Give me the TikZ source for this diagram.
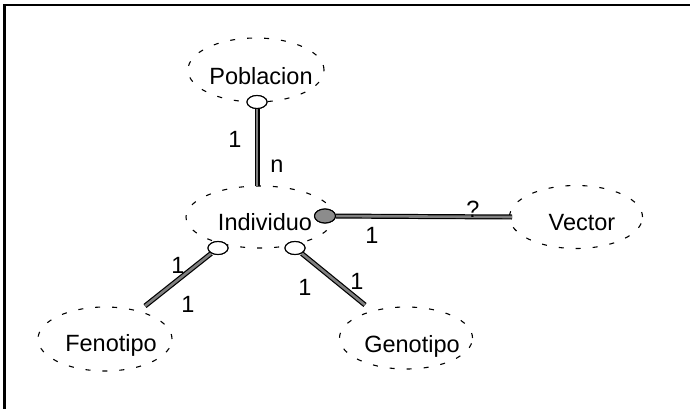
\documentclass[tikz,border=0pt]{standalone}
\usepackage{fontspec}
\setmainfont{Liberation Sans}
\usetikzlibrary{shapes.geometric}
\begin{document}
\begin{tikzpicture}[x=1pt,y=-1pt,
  cloud/.style={draw=black, ellipse, line width=1.1pt, dash pattern=on 5pt off 12pt, inner sep=0pt},
  lbl/.style={font=\fontsize{23.5}{27}\selectfont, inner sep=0pt, text=black},
  num/.style={font=\fontsize{23.5}{27}\selectfont, inner sep=0pt, text=black},
  bar/.style={draw=black, line width=1.2pt, double=black!50, double distance=2.6pt},
  opencirc/.style={draw=black, fill=white, ellipse, line width=1.1pt, minimum width=20pt, minimum height=13pt, inner sep=0pt},
  fillcirc/.style={draw=black, fill=black!45, ellipse, line width=1.1pt, minimum width=21pt, minimum height=14pt, inner sep=0pt},
  frame/.style={draw=black, line width=2.8pt}]
\useasboundingbox (0,0) rectangle (690,409);
\fill[white] (0,0) rectangle (690,409);
% frame (left and top edges)
\coordinate (fTL) at (4.5,5);
\coordinate (fBL) at (4.5,409);
\coordinate (fTR) at (690,5);
\draw[frame] (fBL) -- (fTL) -- (fTR);

% clouds
\node[cloud, minimum width=136pt, minimum height=64pt] (pob) at (256,70) {};
\node[cloud, minimum width=148pt, minimum height=62pt] (ind) at (260,217) {};
\node[cloud, minimum width=133pt, minimum height=63pt] (vec) at (576,217) {};
\node[cloud, minimum width=134pt, minimum height=64pt] (fen) at (105,339) {};
\node[cloud, minimum width=133pt, minimum height=62pt] (gen) at (406,338) {};

% texts
\node[lbl] (pobt) at (261,76) {Poblacion};
\node[lbl] (indt) at (265,222) {Individuo};
\node[lbl] (vect) at (582,223) {Vector};
\node[lbl] (fent) at (111,345) {Fenotipo};
\node[lbl] (gent) at (412,346) {Genotipo};

% connector end points
\coordinate (ePob) at (257,186);
\coordinate (eVec) at (512,217);
\coordinate (eFen) at (145,306);
\coordinate (eGen) at (365,305);

% circle nodes
\node[opencirc] (c0) at (257,102) {};
\node[fillcirc] (cf) at (325,216) {};
\node[opencirc] (c1) at (218,248) {};
\node[opencirc] (c2) at (295,248) {};

% bars
\draw[bar] (c0) -- (ePob);
\draw[bar] (cf) -- (eVec);
\draw[bar] (c1) -- (eFen);
\draw[bar] (c2) -- (eGen);

% circles on top
\node[opencirc] at (c0) {};
\node[fillcirc] at (cf) {};
\node[opencirc] at (c1) {};
\node[opencirc] at (c2) {};

% cardinalities
\node[num] (n1) at (235,139) {1};
\node[num] (n2) at (277,166) {n};
\node[num] (n3) at (473,209) {?};
\node[num] (n4) at (372,235) {1};
\node[num] (n5) at (178,265) {1};
\node[num] (n6) at (188,304) {1};
\node[num] (n7) at (305,287) {1};
\node[num] (n8) at (357,281) {1};
\end{tikzpicture}
\end{document}
